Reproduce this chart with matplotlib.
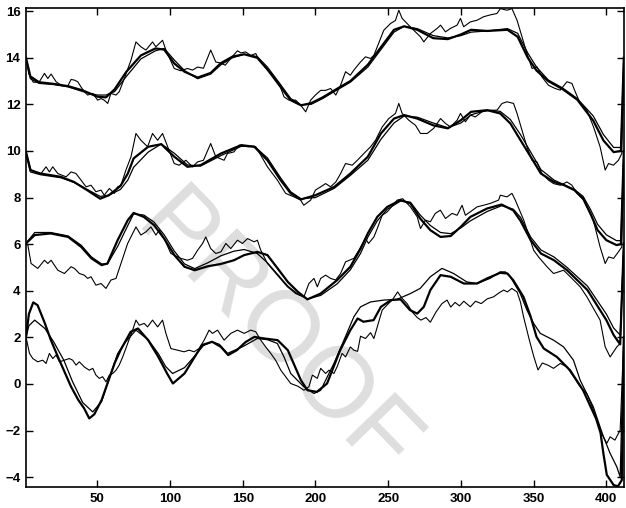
import numpy as np
import matplotlib.pyplot as plt

# ---- group 1 (top, around 13) ----
g1_thick = np.array([[1, 14.0], [4, 13.2], [10, 12.95], [20, 12.88], [30, 12.78], [40, 12.6], [50, 12.33], [56, 12.3],
                     [62, 12.65], [70, 13.4], [80, 14.1], [90, 14.4], [96, 14.35], [103, 13.75], [110, 13.4], [119, 13.15],
                     [128, 13.35], [135, 13.77], [143, 14.05], [151, 14.15], [160, 14.0], [167, 13.5], [176, 12.75],
                     [183, 12.18], [190, 11.96], [197, 12.05], [205, 12.3], [213, 12.6], [224, 13.0], [236, 13.7],
                     [245, 14.45], [254, 15.2], [261, 15.35], [270, 15.2], [281, 14.84], [291, 14.8], [300, 15.0],
                     [307, 15.2], [318, 15.15], [332, 15.2], [339, 14.9], [346, 14.0], [352, 13.45], [360, 13.0],
                     [370, 12.65], [380, 12.2], [391, 11.3], [398, 10.45], [405, 9.95], [410, 10.0], [412, 14.0]])
g1_thin = np.array([[1, 14.0], [4, 13.1], [10, 12.9], [20, 12.85], [30, 12.75], [40, 12.55], [50, 12.4], [56, 12.4],
                    [62, 12.55], [70, 13.2], [80, 13.95], [90, 14.3], [96, 14.4], [103, 13.9], [110, 13.45], [119, 13.1],
                    [128, 13.3], [135, 13.7], [143, 14.0], [151, 14.15], [160, 14.05], [167, 13.6], [176, 12.85],
                    [183, 12.25], [190, 11.98], [197, 12.0], [205, 12.25], [213, 12.55], [224, 12.95], [236, 13.6],
                    [245, 14.35], [254, 15.1], [261, 15.35], [270, 15.25], [281, 14.95], [291, 14.85], [300, 14.95],
                    [307, 15.1], [318, 15.15], [332, 15.25], [339, 15.05], [346, 14.2], [352, 13.6], [360, 13.05],
                    [370, 12.7], [380, 12.25], [391, 11.5], [398, 10.7], [405, 10.15], [410, 10.15], [412, 14.0]])
g1_noisy = np.array([[1, 14.0], [3, 13.3], [6, 12.95], [10, 12.95], [13.7, 13.33], [16, 13.11], [18.3, 13.3],
                     [21.7, 12.97], [25.1, 12.82], [29.7, 12.78], [32, 13.07], [34.3, 13.04], [36.6, 12.97], [38.8, 12.75],
                     [41.1, 12.54], [43.4, 12.4], [46.9, 12.47], [50.3, 12.18], [52.6, 12.25], [54.8, 12.18], [57.2, 12.04],
                     [59.4, 12.47], [62.9, 12.4], [65.1, 12.54], [68.6, 13.11], [73.2, 13.9], [76.6, 14.68], [80, 14.47],
                     [83.5, 14.33], [88, 14.68], [90.3, 14.47], [94.9, 14.75], [97.2, 14.33], [102.9, 13.54],
                     [107.5, 13.44], [112, 13.54], [115.5, 13.47], [119, 13.6], [123, 13.55], [128, 14.33], [131.5, 13.82],
                     [135, 13.77], [138, 13.68], [141.7, 13.97], [146.4, 14.3], [148.7, 14.21], [152, 14.25],
                     [155.5, 14.1], [159, 14.18], [161.2, 13.9], [167, 13.47], [170.4, 13.25], [175, 12.9], [178.4, 12.32],
                     [181.8, 12.18], [186.4, 12.18], [189.8, 11.97], [193.3, 11.68], [196.7, 12.18], [200, 12.4],
                     [203.6, 12.6], [207, 12.6], [210.4, 12.68], [214, 12.4], [217.3, 12.82], [220.7, 13.4], [224, 13.25],
                     [226.4, 13.47], [231, 13.82], [234.4, 14.04], [237.9, 13.97], [240.2, 14.11], [242.5, 14.47],
                     [247, 15.18], [251.6, 15.47], [255, 15.6], [257.3, 16.04], [259.6, 15.69], [263, 15.47],
                     [267.6, 15.18], [272.2, 14.9], [274.5, 14.68], [279, 15.04], [283.7, 15.26], [286, 15.4],
                     [289.4, 15.11], [292.8, 15.26], [297.4, 15.4], [299.7, 15.69], [301.9, 15.33], [306.5, 15.54],
                     [311.1, 15.61], [315.6, 15.76], [320.2, 15.84], [324.8, 15.9], [327.1, 16.11], [331.7, 16.04],
                     [335.1, 16.11], [338.6, 15.61], [342, 14.9], [345.4, 14.18], [348.9, 13.54], [352.3, 13.61],
                     [355.7, 13.18], [360.2, 12.82], [364.8, 12.68], [368.3, 12.61], [372.9, 12.97], [376.3, 12.9],
                     [378.6, 12.54], [382, 12.04], [386.6, 11.75], [391.2, 11.03], [395.7, 10.18], [399.2, 9.18],
                     [401.5, 9.46], [404.9, 9.39], [408.3, 9.6], [410.6, 9.89], [412, 14.0]])

# ---- group 2 (around 9) ----
g2_thick = np.array([[1, 9.96], [4, 9.18], [11, 9.03], [25, 8.89], [34, 8.67], [43, 8.32], [52, 7.95], [58, 8.1],
                     [66, 8.5], [71, 9.03], [75, 9.68], [85, 10.18], [94, 10.29], [103, 9.75], [112, 9.32], [121, 9.39],
                     [135, 9.89], [149, 10.25], [158, 10.18], [167, 9.6], [176, 8.75], [183, 8.18], [190, 7.92],
                     [200, 8.1], [213, 8.46], [224, 9.03], [236, 9.75], [245, 10.75], [254, 11.39], [261, 11.54],
                     [270, 11.39], [281, 11.1], [291, 10.97], [300, 11.32], [307, 11.68], [318, 11.75], [327, 11.61],
                     [334, 11.18], [341, 10.46], [348, 9.75], [355, 9.03], [364, 8.67], [371, 8.53], [378, 8.32],
                     [384, 7.96], [389, 7.32], [394, 6.6], [400, 6.17], [407, 5.96], [410, 6.0], [412, 10.0]])
g2_thin = np.array([[1, 9.96], [4, 9.1], [11, 8.98], [25, 8.85], [34, 8.65], [43, 8.35], [52, 8.05], [58, 8.1],
                    [66, 8.35], [71, 8.75], [75, 9.3], [85, 9.95], [94, 10.3], [103, 9.9], [112, 9.4], [121, 9.35],
                    [135, 9.8], [149, 10.2], [158, 10.2], [167, 9.7], [176, 8.85], [183, 8.25], [190, 7.95],
                    [200, 8.0], [213, 8.4], [224, 8.95], [236, 9.6], [245, 10.5], [254, 11.2], [261, 11.5],
                    [270, 11.45], [281, 11.2], [291, 11.0], [300, 11.2], [307, 11.55], [318, 11.75], [327, 11.7],
                    [334, 11.35], [341, 10.7], [348, 9.95], [355, 9.2], [364, 8.75], [371, 8.55], [378, 8.35],
                    [384, 8.05], [389, 7.5], [394, 6.85], [400, 6.4], [407, 6.15], [410, 6.15], [412, 10.0]])
g2_noisy = np.array([[1, 9.96], [4.5, 9.18], [11, 9.0], [14.8, 9.32], [17.1, 9.1], [19.4, 9.32], [22.9, 9.03],
                     [28.6, 8.89], [32, 9.1], [35.4, 9.03], [38.8, 8.75], [42.3, 8.46], [45.7, 8.53], [49.1, 8.25],
                     [52.6, 8.32], [54.8, 8.1], [58.3, 8.39], [61.7, 8.18], [64, 8.46], [66.3, 8.53], [69.7, 9.18],
                     [73.2, 9.75], [76.6, 10.75], [80, 10.46], [84.6, 10.18], [88, 10.75], [91.5, 10.46], [94.9, 10.75],
                     [98.4, 10.18], [102.9, 9.46], [106.3, 9.39], [110.9, 9.6], [115.5, 9.32], [119, 9.53], [123, 9.6],
                     [128, 10.32], [131.5, 9.75], [137.2, 9.6], [139.5, 9.89], [144, 9.96], [147.5, 10.25],
                     [153.3, 10.18], [159, 10.18], [162.4, 9.82], [167, 9.32], [173.8, 8.75], [179.5, 8.18],
                     [185.2, 8.03], [189.8, 7.89], [192, 7.67], [196.7, 7.89], [200, 8.32], [203.6, 8.46], [207, 8.6],
                     [210.4, 8.46], [214, 8.67], [217.3, 9.03], [220.7, 9.46], [225.3, 9.39], [228.8, 9.6],
                     [233.3, 9.89], [237.9, 10.18], [241.3, 10.46], [245.9, 11.03], [250.4, 11.39], [255, 11.61],
                     [257.3, 12.04], [259.6, 11.61], [264.2, 11.32], [268.8, 11.1], [272.2, 10.75], [276.8, 10.75],
                     [281.3, 10.97], [286, 11.39], [289.4, 11.18], [292.8, 11.03], [297.4, 11.32], [299.7, 11.61],
                     [303.1, 11.25], [306.5, 11.54], [309.9, 11.46], [314.5, 11.68], [320.2, 11.75], [324.8, 11.75],
                     [328.3, 12.04], [331.7, 12.11], [336.2, 12.04], [338.6, 11.61], [342, 10.89], [345.4, 10.18],
                     [348.9, 9.6], [352.3, 9.53], [355.7, 9.03], [360.2, 8.75], [363.7, 8.6], [368.3, 8.53],
                     [372.9, 8.67], [376.3, 8.53], [379.8, 8.18], [384.4, 7.89], [391, 7.03], [395.7, 5.88],
                     [399.2, 5.17], [401.5, 5.45], [405, 5.39], [408.3, 5.67], [410.6, 5.88], [412, 10.0]])

# ---- group 3 (around 6) ----
g3_thick = np.array([[1, 6.03], [7, 6.39], [18, 6.46], [30, 6.31], [39, 5.88], [46, 5.39], [53, 5.1], [57, 5.17],
                     [64, 6.17], [71, 7.03], [75, 7.34], [82, 7.17], [89, 6.82], [96, 6.24], [103, 5.53], [110, 5.03],
                     [117, 4.88], [126, 5.05], [135, 5.15], [144, 5.31], [151, 5.53], [160, 5.67], [167, 5.53],
                     [174, 4.96], [181, 4.38], [188, 3.95], [194.5, 3.63], [203.6, 3.88], [215, 4.46], [224, 5.03],
                     [231, 5.8], [236, 6.46], [242.5, 7.17], [249.4, 7.6], [258.5, 7.89], [265.3, 7.75], [272, 7.1],
                     [279, 6.6], [286, 6.31], [293, 6.35], [300, 6.75], [306.5, 7.17], [318, 7.53], [328, 7.7],
                     [336, 7.45], [341, 7.0], [348, 6.17], [355, 5.6], [364, 5.31], [373, 4.88], [387, 4.03],
                     [400, 2.74], [405, 2.1], [409.5, 1.7], [412, 6.03]])
g3_thin = np.array([[1, 6.03], [7, 6.5], [18, 6.5], [30, 6.35], [39, 5.95], [46, 5.45], [53, 5.15], [57, 5.15],
                    [64, 5.9], [71, 6.8], [75, 7.3], [82, 7.25], [89, 6.95], [96, 6.4], [103, 5.7], [110, 5.15],
                    [117, 4.95], [126, 5.2], [135, 5.5], [144, 5.7], [151, 5.77], [160, 5.6], [167, 5.2], [174, 4.7],
                    [181, 4.2], [188, 3.85], [194.5, 3.65], [203.6, 3.8], [215, 4.3], [224, 4.9], [231, 5.6],
                    [236, 6.3], [242.5, 7.0], [249.4, 7.5], [258.5, 7.85], [265.3, 7.8], [272, 7.25], [279, 6.8],
                    [286, 6.5], [293, 6.45], [300, 6.7], [306.5, 7.0], [318, 7.4], [328, 7.65], [336, 7.5],
                    [341, 7.15], [348, 6.3], [355, 5.75], [364, 5.45], [373, 5.0], [387, 4.2], [400, 3.0],
                    [405, 2.4], [409.5, 2.1], [412, 6.03]])
g3_noisy = np.array([[1, 6.03], [2.3, 5.96], [4.5, 5.17], [9.1, 4.96], [13.7, 5.31], [16, 5.17], [18.3, 5.31],
                     [20.5, 5.1], [22.9, 4.88], [27.4, 4.74], [32, 5.03], [34.3, 4.96], [37.7, 4.74], [41.1, 4.67],
                     [43.4, 4.53], [45.7, 4.6], [49.1, 4.24], [52.6, 4.31], [56, 4.1], [59.4, 4.46], [62.9, 4.53],
                     [66.3, 5.17], [70.9, 6.03], [76.6, 6.74], [80, 6.39], [83.5, 6.53], [86.9, 6.74], [90.3, 6.39],
                     [92.6, 6.6], [96, 6.24], [100.6, 5.6], [107.5, 5.39], [112, 5.31], [115.5, 5.39], [119, 5.74],
                     [122.4, 6.03], [124.6, 6.31], [128, 5.81], [131.5, 5.6], [135, 5.67], [138.4, 6.03],
                     [141.8, 5.81], [146.4, 6.17], [149.8, 6.03], [153.3, 6.24], [157.8, 6.1], [160.1, 6.17],
                     [162.4, 5.74], [167, 5.17], [173.8, 4.67], [180.7, 4.17], [186.4, 3.88], [192.1, 3.74],
                     [195.5, 4.31], [199, 4.53], [201.3, 4.17], [203.6, 4.53], [207, 4.67], [210.4, 4.53],
                     [213.9, 4.46], [217.3, 4.74], [220.7, 5.24], [226.4, 5.39], [229.9, 5.74], [234.4, 6.24],
                     [236.5, 6.03], [240.2, 6.31], [242.5, 6.67], [245.9, 7.24], [249.4, 7.39], [256.2, 7.89],
                     [260, 7.95], [265.3, 7.6], [270, 7.17], [272.2, 6.67], [275.6, 7.03], [279, 6.96], [282.4, 7.32],
                     [285.9, 7.46], [289.4, 7.1], [293.9, 7.32], [297.4, 7.24], [300.8, 7.67], [303.1, 7.24],
                     [306.5, 7.39], [311.1, 7.6], [315.6, 7.67], [320.2, 7.75], [325.9, 7.89], [327.1, 8.1],
                     [331.7, 8.03], [335.1, 8.18], [337.4, 7.89], [343.2, 7.03], [347.8, 6.17], [350, 5.74],
                     [353.4, 5.45], [359.2, 5.03], [363.7, 4.74], [370.6, 4.88], [375.2, 4.6], [382, 4.17],
                     [386.6, 3.74], [395.7, 2.74], [399.2, 1.59], [402.6, 1.16], [407.2, 1.59], [409.5, 1.74],
                     [412, 6.03]])

# ---- group 4 (bottom, around 1) ----
g4_thick = np.array([[1, 2.0], [3, 3.0], [6, 3.5], [9, 3.38], [14, 2.6], [18, 1.9], [23, 1.16], [27, 0.59],
                     [32, -0.12], [37, -0.69], [41, -1.05], [44.5, -1.48], [48, -1.3], [53, -0.69], [57, 0.02],
                     [62, 0.9], [66, 1.45], [73, 2.24], [78, 2.38], [85, 1.88], [92, 1.16], [98, 0.45], [102, 0.02],
                     [110, 0.45], [117, 1.16], [122, 1.67], [129, 1.81], [135, 1.59], [140, 1.24], [146, 1.45],
                     [152, 1.8], [158, 2.02], [165, 1.95], [174, 1.88], [181, 1.45], [185, 0.88], [190, 0.16],
                     [194.5, -0.27], [201, -0.34], [208, 0.02], [217, 1.45], [224, 2.31], [229, 2.81], [233, 2.67],
                     [240, 2.74], [245, 3.31], [252, 3.6], [258.5, 3.63], [265, 3.17], [270, 3.02], [274.5, 3.31],
                     [279, 4.03], [286, 4.67], [293, 4.6], [302, 4.31], [311, 4.31], [318, 4.53], [327, 4.77],
                     [332, 4.74], [336, 4.45], [343, 3.74], [348, 2.88], [352, 2.02], [357, 1.52], [366, 1.16],
                     [375, 0.59], [384, -0.27], [393, -1.5], [396, -2.1], [398, -3.0], [400.3, -3.9], [405, -4.34],
                     [408, -4.39], [410.6, -4.13], [412, 2.0]])
g4_thin = np.array([[1, 2.0], [3, 2.5], [7, 2.74], [14, 2.38], [20, 1.81], [27, 1.02], [33, 0.1], [40, -0.8],
                    [46.9, -1.2], [53, -0.75], [59.4, 0.45], [64, 1.3], [68.6, 1.74], [76.6, 2.31], [85, 1.9],
                    [92, 1.3], [97, 0.75], [101.8, 0.45], [110, 0.7], [117, 1.2], [123, 1.65], [129, 1.81],
                    [134, 1.7], [139.5, 1.31], [150, 1.6], [160, 1.95], [167, 1.9], [173.8, 1.74], [178.4, 1.16],
                    [183, 0.45], [192, -0.12], [199, -0.41], [203.6, -0.27], [212.7, 0.88], [219.6, 1.88],
                    [226.4, 2.88], [231, 3.31], [237.9, 3.52], [247, 3.6], [256, 3.63], [265.3, 3.88], [272, 4.1],
                    [279, 4.6], [287, 4.96], [295, 4.74], [304, 4.38], [311, 4.31], [320, 4.53], [327, 4.81],
                    [330.5, 4.81], [334, 4.6], [340.8, 3.88], [345.4, 3.17], [350, 2.6], [354.6, 2.17],
                    [363.7, 1.88], [370.6, 1.59], [377.4, 1.02], [382, 0.16], [391, -0.98], [398, -2.27],
                    [402.6, -2.98], [407.2, -3.56], [409.5, -3.99], [412, 2.0]])
g4_noisy = np.array([[1, 2.02], [3.4, 1.31], [5.7, 1.09], [9.1, 0.95], [12.5, 1.02], [14.8, 0.88], [17.1, 1.31],
                     [19.4, 1.09], [21.7, 1.24], [24, 0.95], [27.4, 1.02], [30.8, 1.09], [33.1, 1.02], [35.4, 0.81],
                     [37.7, 0.95], [41.1, 0.73], [44.5, 0.59], [46.9, 0.67], [49.1, 0.38], [51.4, 0.24], [53.7, 0.31],
                     [56, 0.09], [58.3, 0.38], [60.6, 0.45], [62.9, 0.59], [65.1, 0.81], [67.5, 1.16], [70.9, 1.74],
                     [74.3, 2.31], [76.6, 2.74], [78.9, 2.52], [82.3, 2.6], [84.6, 2.45], [88, 2.74], [91.5, 2.45],
                     [94.9, 2.74], [97.2, 2.17], [100.6, 1.52], [105.2, 1.45], [109.7, 1.38], [113.2, 1.45],
                     [116.6, 1.38], [120, 1.52], [123.5, 1.88], [126.9, 2.31], [129.2, 2.17], [132.7, 2.31],
                     [137.2, 1.88], [141.8, 2.17], [146.4, 2.31], [151, 2.17], [155.5, 2.31], [159, 2.24],
                     [162.4, 1.88], [165.8, 1.59], [169.3, 1.31], [172.6, 1.02], [176.2, 0.59], [179.5, 0.31],
                     [183, 0.02], [188, -0.1], [192.1, -0.27], [195.5, -0.12], [197.9, 0.38], [201.3, 0.24],
                     [203.6, 0.67], [207, 0.45], [209.3, 0.59], [212.7, 0.45], [215, 0.75], [218.3, 1.31],
                     [220.7, 1.16], [224, 1.59], [226.4, 1.45], [229, 1.4], [231, 2.05], [234.4, 1.95],
                     [237.9, 2.2], [240.2, 1.95], [242.5, 2.45], [245.9, 3.17], [249.4, 3.4], [252.8, 3.6],
                     [256.5, 3.95], [259.6, 3.67], [263, 3.45], [266.5, 3.09], [270, 2.85], [272.5, 2.74],
                     [276, 2.85], [279, 2.65], [283, 3.1], [287, 3.45], [290.5, 3.6], [293, 3.3], [296, 3.5],
                     [299, 3.35], [302, 3.55], [306.5, 3.31], [310, 3.55], [314, 3.45], [318, 3.65], [322.5, 3.74],
                     [326, 3.9], [329.4, 4.03], [332, 3.95], [335, 4.1], [338.6, 3.95], [341, 3.5], [343, 2.9],
                     [347, 1.9], [350, 1.2], [353, 0.6], [356, 0.9], [360, 0.8], [363.7, 0.67], [368.3, 0.88],
                     [372.9, 0.73], [377.5, 0.31], [382, -0.12], [386.6, -0.41], [391.2, -1.12], [395.7, -1.98],
                     [400.3, -2.55], [402.6, -2.27], [405.9, -2.41], [409.5, -1.98], [412, 2.02]])

x_ticks = [50, 100, 150, 200, 250, 300, 350, 400]
y_ticks = [-4, -2, 0, 2, 4, 6, 8, 10, 12, 14, 16]

plt.rcParams['font.family'] = ['Liberation Sans', 'DejaVu Sans']

fig = plt.figure(figsize=(6.26, 5.08), dpi=100)
ax = fig.add_axes([0.0415, 0.041, 0.955, 0.943])

for noisy, thin, thick in [(g1_noisy, g1_thin, g1_thick), (g2_noisy, g2_thin, g2_thick),
                           (g3_noisy, g3_thin, g3_thick), (g4_noisy, g4_thin, g4_thick)]:
    ax.plot(noisy[:, 0], noisy[:, 1], color='black', lw=0.8)
    ax.plot(thin[:, 0], thin[:, 1], color='black', lw=0.9)
    ax.plot(thick[:, 0], thick[:, 1], color='black', lw=1.6)

# watermark
ax.text(0.439, 0.335, 'PROOF', transform=fig.transFigure, fontsize=72,
        color='#dedede', rotation=-46, ha='center', va='center', zorder=0.5, clip_on=False)

ax.set_xlim(1, 412)
ax.set_ylim(-4.43, 16.13)
ax.set_xticks(x_ticks)
ax.set_yticks(y_ticks)
ax.tick_params(direction='in', length=5, width=1, top=True, right=True, labelsize=9.5, pad=4)
for lab in ax.get_xticklabels() + ax.get_yticklabels():
    lab.set_fontweight('bold')
for sp in ax.spines.values():
    sp.set_linewidth(1.2)

fig.savefig('out.png', dpi=100)
